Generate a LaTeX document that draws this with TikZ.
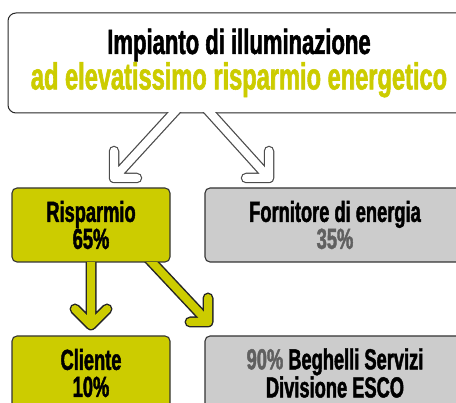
\documentclass[tikz,border=0pt]{standalone}
\usepackage{fontspec}
\setmainfont{Liberation Sans}[FakeStretch=0.63,FakeBold=1.5]
\usetikzlibrary{calc}
\definecolor{lime}{RGB}{204,204,0}
\definecolor{boxgray}{RGB}{204,204,204}
\definecolor{txtgray}{RGB}{96,96,96}

\begin{document}
\begin{tikzpicture}[x=1pt,y=-1pt]

\tikzstyle{block} = [draw=black!80, line width=1.1pt, rounded corners=5pt, minimum width=158pt, minimum height=74pt, inner sep=0pt, align=center, font=\bfseries\fontsize{29}{27}\selectfont]
\tikzstyle{gout} = [draw=black!70, line width=10.5pt, line cap=round, line join=round]
\tikzstyle{gin} = [draw=white, line width=8pt, line cap=round, line join=round]
\tikzstyle{yout} = [draw=black!85, line width=11pt, line cap=round, line join=round]
\tikzstyle{yin} = [draw=lime, line width=8pt, line cap=round, line join=round]

\useasboundingbox (0,0) rectangle (456,403);
\clip (0,0) rectangle (456,403);

% boxes
\node[draw=black!85, line width=1pt, rounded corners=8pt, minimum width=462pt, minimum height=100pt, inner sep=0pt, align=center, font=\bfseries\fontsize{35}{34}\selectfont] (top) at (239,63)
  {Impianto di illuminazione\\ \textcolor{lime}{\fontsize{37.5}{34}\selectfont ad elevatissimo risparmio energetico}};
\node[block, fill=lime] (saving) at (91,225) {Risparmio\\65\%};
\node[block, fill=boxgray, minimum width=260pt] (supplier) at (335,225) {Fornitore di energia\\\textcolor{txtgray}{35\%}};
\node[block, fill=lime] (client) at (91,373) {Cliente\\10\%};
\node[block, fill=boxgray, minimum width=260pt] (esco) at (335,373) {\textcolor{txtgray}{90\%} Beghelli Servizi\\Divisione ESCO};

\coordinate (gls) at ($(top.south)+(-54,-13)$);
\coordinate (grs) at ($(top.south)+(-40,-13)$);
\coordinate (gl) at (114,178);
\coordinate (gr) at (269,178);

\coordinate (yds) at ($(saving.south)+(0,-12)$);
\coordinate (yrs) at ($(saving.south)+(50,-12)$);
\coordinate (yd) at (91,325);
\coordinate (yr) at (208,322);

% hollow arrows out of the top box
\begin{scope}
\clip (0,112.6) rectangle (456,190);
\draw[gout] (gls) -- (gl) -- ++(0,-27) (gl) -- ++(23,0);
\draw[gout] (grs) -- (gr) -- ++(0,-27) (gr) -- ++(-23,0);
\draw[gin] (gls) -- (gl) -- ++(0,-27) (gl) -- ++(23,0);
\draw[gin] (grs) -- (gr) -- ++(0,-27) (gr) -- ++(-23,0);
\end{scope}

% lime arrows out of Risparmio
\begin{scope}
\clip (0,262.6) rectangle (456,335);
\draw[yout] (yds) -- (yd) -- ++(-16,-16) (yd) -- ++(16,-16);
\draw[yout] (yrs) -- (yr) -- ++(0,-24) (yr) -- ++(-18,0);
\draw[yin] (yds) -- (yd) -- ++(-16,-16) (yd) -- ++(16,-16);
\draw[yin] (yrs) -- (yr) -- ++(0,-24) (yr) -- ++(-18,0);
\end{scope}

\end{tikzpicture}
\end{document}
